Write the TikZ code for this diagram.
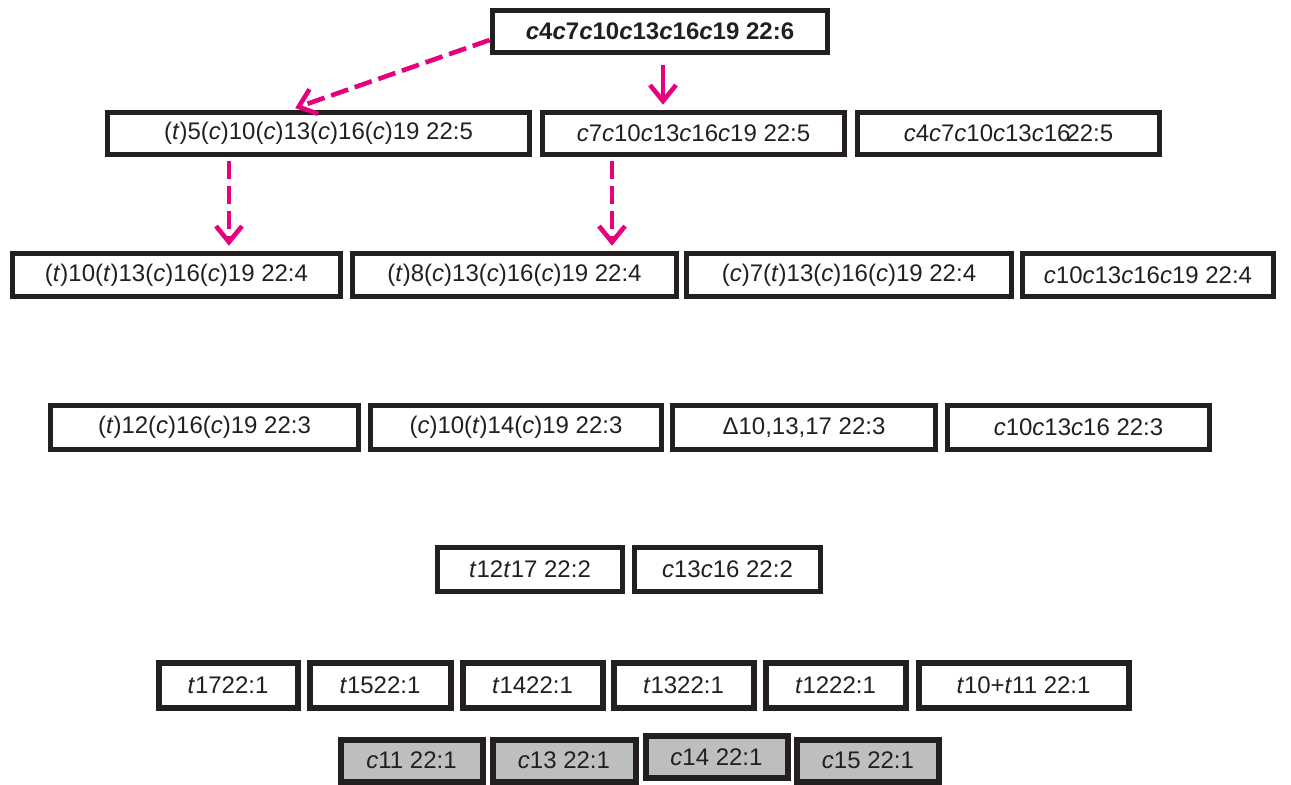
\documentclass[tikz,border=0pt]{standalone}
\usepackage{fontspec}
\setmainfont{Liberation Sans}
\usepackage{tikz}
\usetikzlibrary{arrows.meta}
\definecolor{magentaarrow}{HTML}{E6007E}
\definecolor{boxgray}{HTML}{BCBEC0}
\definecolor{inkblack}{HTML}{231F20}
\newcommand{\cis}{\textit{c}}
\newcommand{\trans}{\textit{t}}

\begin{document}
\begin{tikzpicture}[x=0.5pt,y=-0.5pt,
  fa/.style={draw=inkblack,line width=2.8pt,inner sep=0pt,text=inkblack,
    minimum height=21.5pt,font=\fontsize{12}{14}\selectfont},
  fagray/.style={fa,fill=boxgray,line width=3pt},
  pinkarrow/.style={draw=magentaarrow,line width=2.3pt,
    -{Straight Barb[length=8pt,width=13pt]}},
  pinkdash/.style={pinkarrow,dash pattern=on 9pt off 3.5pt}]
\useasboundingbox (0,0) rectangle (1291,784);

%22:6
\node[fa,minimum width=167.5pt,minimum height=21pt,font=\fontsize{12}{14}\selectfont\bfseries] (t6) at (660,31.5) {\cis4\cis7\cis10\cis13\cis16\cis19 22:6};

%22:5
\node[fa,minimum width=211pt,minimum height=21pt] (fa5a) at (318.5,133.5) {(\trans)5(\cis)10(\cis)13(\cis)16(\cis)19 22:5};
\node[fa,minimum width=151pt,minimum height=21pt] (fa5b) at (693.5,133.5) {\cis7\cis10\cis13\cis16\cis19 22:5};
\node[fa,minimum width=151pt,minimum height=21pt] (fa5c) at (1008.5,133.5) {\cis4\cis7\cis10\cis13\cis16\kern-2pt22:5};

%22:4
\node[fa,minimum width=164pt] (fa4a) at (176.5,275) {(\trans)10(\trans)13(\cis)16(\cis)19 22:4};
\node[fa,minimum width=162pt] (fa4b) at (514.5,275) {(\trans)8(\cis)13(\cis)16(\cis)19 22:4};
\node[fa,minimum width=162.5pt] (fa4c) at (849,275) {(\cis)7(\trans)13(\cis)16(\cis)19 22:4};
\node[fa,minimum width=125.5pt] (fa4d) at (1148,275) {\cis10\cis13\cis16\cis19 22:4};

%22:3
\node[fa,minimum width=154pt,minimum height=22pt] (fa3a) at (204.5,427.5) {(\trans)12(\cis)16(\cis)19 22:3};
\node[fa,minimum width=145.5pt,minimum height=22pt] (fa3b) at (516,427.5) {(\cis)10(\trans)14(\cis)19 22:3};
\node[fa,minimum width=131.5pt,minimum height=22pt] (fa3c) at (804,427.5) {Δ10,13,17 22:3};
\node[fa,minimum width=131pt,minimum height=22pt] (fa3d) at (1078.5,427.5) {\cis10\cis13\cis16 22:3};

%22:2
\node[fa,minimum width=92.5pt,minimum height=22pt] (fa2a) at (530,569.5) {\trans12\trans17 22:2};
\node[fa,minimum width=93pt,minimum height=22pt] (fa2b) at (727.5,569.5) {\cis13\cis16 22:2};

%22:1 trans
\node[fa,minimum width=69.5pt,minimum height=22.5pt,line width=3pt] (fa1a) at (228,685) {\trans1722:1};
\node[fa,minimum width=70.5pt,minimum height=22.5pt,line width=3pt] (fa1b) at (380,685) {\trans1522:1};
\node[fa,minimum width=70pt,minimum height=22.5pt,line width=3pt] (fa1c) at (532.5,685) {\trans1422:1};
\node[fa,minimum width=70pt,minimum height=22.5pt,line width=3pt] (fa1d) at (683.5,685) {\trans1322:1};
\node[fa,minimum width=70pt,minimum height=22.5pt,line width=3pt] (fa1e) at (835.5,685) {\trans1222:1};
\node[fa,minimum width=105pt,minimum height=22.5pt,line width=3pt] (fa1f) at (1023.5,685) {\trans10+\trans11 22:1};

%22:1 cis
\node[fagray,minimum width=71pt,minimum height=21pt] (ci1a) at (411.5,760.5) {\cis11 22:1};
\node[fagray,minimum width=71.5pt,minimum height=21pt] (ci1b) at (564,760.5) {\cis13 22:1};
\node[fagray,minimum width=71pt,minimum height=21pt] (ci1c) at (716.5,757) {\cis14 22:1};
\node[fagray,minimum width=71pt,minimum height=21pt] (ci1d) at (868,760.5) {\cis15 22:1};

%arrows
\coordinate (s1) at ([yshift=-4.25pt]t6.west);
\coordinate (e1) at ([xshift=-14pt]fa5a.north);
\draw[pinkdash,shorten >=2.5pt] (s1) -- (e1);
\coordinate (s2) at ([xshift=1.5pt,yshift=-5pt]t6.south);
\draw[pinkarrow,shorten >=2.5pt] (s2) -- (s2 |- fa5b.north);
\coordinate (s3) at ([xshift=-44.75pt,yshift=-2pt]fa5a.south);
\draw[pinkdash,shorten >=2.5pt] (s3) -- (s3 |- fa4a.north);
\coordinate (s4) at ([xshift=-40.75pt,yshift=-2pt]fa5b.south);
\draw[pinkdash,shorten >=2.5pt] (s4) -- (s4 |- fa4b.north);

\end{tikzpicture}
\end{document}
